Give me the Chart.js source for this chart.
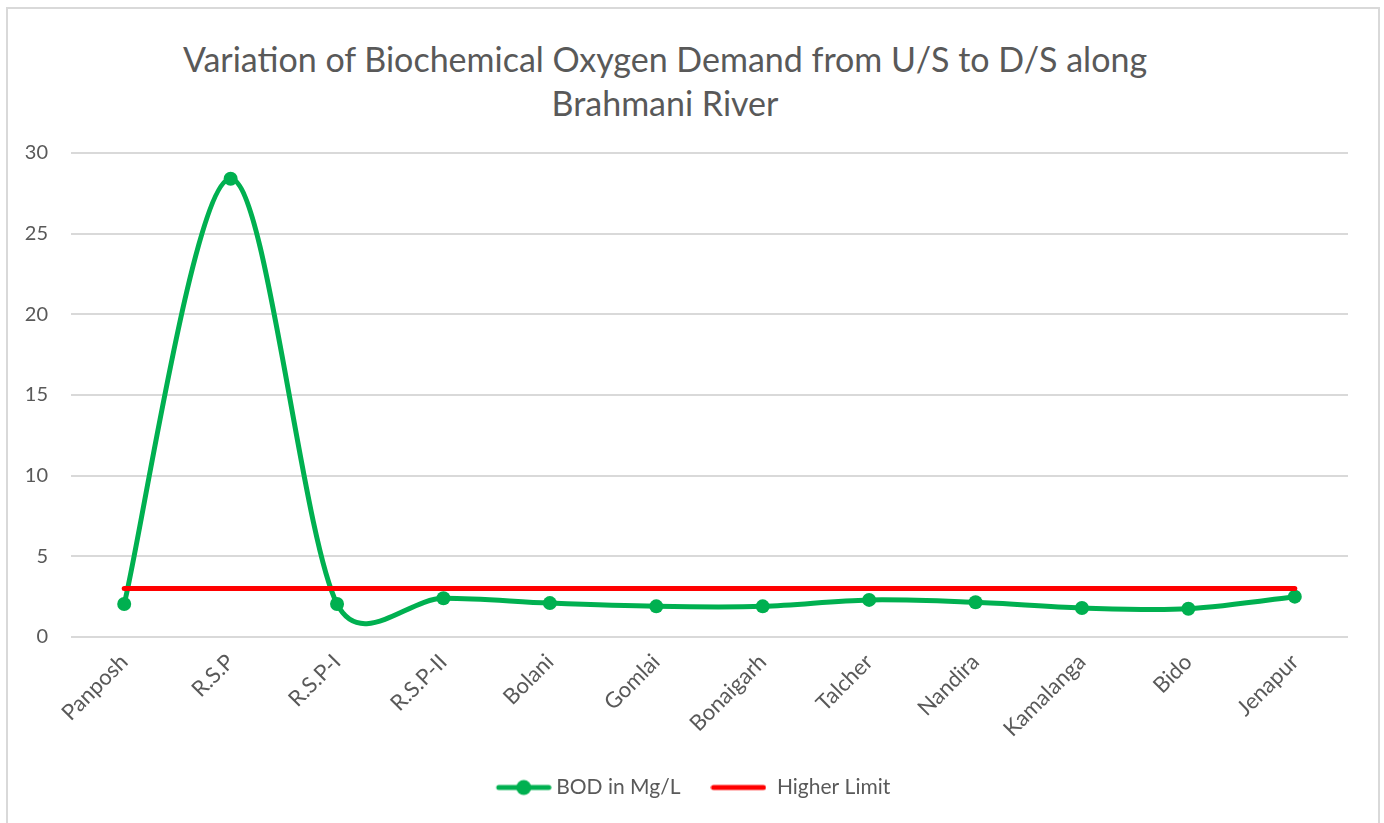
<!DOCTYPE html>
<html lang="en">
<head>
    <meta charset="UTF-8">
    <title>Variation of BOD along Brahmani River</title>
    <script src="https://cdn.jsdelivr.net/npm/chart.js"></script>
    <style>
        body {
            margin: 0;
            background: #fff;
            font-family: 'Lato', sans-serif;
            overflow: hidden;
        }
        /* light frame round the chart, as in the document */
        .frame {
            position: absolute;
            left: 6px;
            top: 7px;
            width: 1370px;
            height: 900px;
            border: 2px solid #d9d9d9;
        }
        .chart-title {
            position: absolute;
            left: 0;
            top: 37px;
            width: 1330px;
            text-align: center;
            font-size: 34px;
            line-height: 44px;
            color: #595959;
        }
        .chart-box {
            position: absolute;
            left: 0;
            top: 0;
            width: 1384px;
            height: 823px;
        }
    </style>
</head>
<body>
    <div class="frame"></div>
    <div class="chart-title">Variation of Biochemical Oxygen Demand from U/S to D/S along<br>Brahmani River</div>
    <div class="chart-box"><canvas id="bod-chart"></canvas></div>

    <script>
        // Sampling stations, upstream to downstream
        const stations = ['Panposh', 'R.S.P', 'R.S.P-I', 'R.S.P-II', 'Bolani', 'Gomlai', 'Bonaigarh', 'Talcher', 'Nandira', 'Kamalanga', 'Bido', 'Jenapur'];
        // BOD in mg/L
        const bodValues = [2.05, 28.4, 2.05, 2.4, 2.1, 1.9, 1.9, 2.3, 2.15, 1.8, 1.75, 2.5];
        // permissible upper limit
        const higherLimit = [3, 3, 3, 3, 3, 3, 3, 3, 3, 3, 3, 3];

        const GREEN = '#00B050';
        const RED = '#FF0000';
        const TEXT = '#595959';

        // legend icons: line with marker for BOD, plain line for the limit
        function legendIcon(color, withDot, shift) {
            const c = document.createElement('canvas');
            c.width = 56 + shift * 2;
            c.height = 18;
            const g = c.getContext('2d');
            g.strokeStyle = color;
            g.lineWidth = 5;
            g.lineCap = 'round';
            g.beginPath();
            g.moveTo(shift * 2 + 3, 9);
            g.lineTo(shift * 2 + 53, 9);
            g.stroke();
            if (withDot) {
                g.fillStyle = color;
                g.beginPath();
                g.arc(shift * 2 + 28, 9, 7.5, 0, Math.PI * 2);
                g.fill();
            }
            return c;
        }
        const legendIcons = [legendIcon(GREEN, true, 6), legendIcon(RED, false, 0)];

        // Excel style smoothing: catmull-rom tangents (1/6), control arm kept
        // under half of the segment length
        const excelSmooth = {
            id: 'excelSmooth',
            beforeDatasetDraw(chart, args) {
                if (args.index !== 0) return;
                const pts = args.meta.data;
                const n = pts.length;
                const dist = (a, b) => Math.hypot(b.x - a.x, b.y - a.y);
                for (let i = 0; i < n - 1; i++) {
                    const p0 = pts[Math.max(i - 1, 0)];
                    const p1 = pts[i];
                    const p2 = pts[i + 1];
                    const p3 = pts[Math.min(i + 2, n - 1)];
                    const d12 = dist(p1, p2);
                    const d02 = dist(p0, p2);
                    const d13 = dist(p1, p3);
                    const f1 = d02 / 6 < d12 / 2 ? 1 / 6 : d12 / (2 * d02);
                    const f2 = d13 / 6 < d12 / 2 ? 1 / 6 : d12 / (2 * d13);
                    p1.cp2x = p1.x + f1 * (p2.x - p0.x);
                    p1.cp2y = p1.y + f1 * (p2.y - p0.y);
                    p2.cp1x = p2.x - f2 * (p3.x - p1.x);
                    p2.cp1y = p2.y - f2 * (p3.y - p1.y);
                }
                args.meta.dataset._pointsUpdated = true;
                args.meta.dataset._path = undefined;
            }
        };

        // nudge the legend so it sits where the original one does
        const legendShift = {
            id: 'legendShift',
            afterLayout(chart) {
                chart.legend.left += 16;
                chart.legend.right += 16;
            }
        };

        const ctx = document.getElementById('bod-chart').getContext('2d');
        new Chart(ctx, {
            type: 'line',
            data: {
                labels: stations,
                datasets: [
                    {
                        label: 'BOD in Mg/L',
                        data: bodValues,
                        borderColor: GREEN,
                        backgroundColor: GREEN,
                        borderWidth: 5,
                        borderJoinStyle: 'round',
                        pointStyle: 'circle',
                        pointRadius: 7,
                        pointBorderWidth: 0,
                        pointBackgroundColor: GREEN,
                        tension: 0.5,
                        fill: false,
                        order: 1
                    },
                    {
                        label: 'Higher Limit',
                        data: higherLimit,
                        borderColor: RED,
                        backgroundColor: RED,
                        borderWidth: 5,
                        borderCapStyle: 'round',
                        pointRadius: 0,
                        tension: 0,
                        fill: false,
                        order: 0
                    }
                ]
            },
            plugins: [excelSmooth, legendShift],
            options: {
                responsive: true,
                maintainAspectRatio: false,
                animation: false,
                layout: { padding: { left: 0, right: 36, top: 153, bottom: 15 } },
                plugins: {
                    tooltip: { enabled: false },
                    title: { display: false },
                    legend: {
                        position: 'bottom',
                        labels: {
                            usePointStyle: true,
                            pointStyleWidth: 56,
                            padding: 30,
                            color: TEXT,
                            font: { family: 'Lato', size: 21 },
                            sort: (a, b) => a.datasetIndex - b.datasetIndex,
                            generateLabels(chart) {
                                const items = Chart.defaults.plugins.legend.labels.generateLabels(chart);
                                items.forEach(it => { it.pointStyle = legendIcons[it.datasetIndex]; });
                                return items;
                            }
                        }
                    }
                },
                scales: {
                    x: {
                        offset: true,
                        grid: { display: false, drawTicks: false },
                        border: { display: false },
                        ticks: {
                            autoSkip: false,
                            minRotation: 45,
                            maxRotation: 45,
                            padding: 12,
                            color: TEXT,
                            font: { family: 'Lato', size: 22 }
                        },
                        afterFit: (scale) => { scale.height = 110; }
                    },
                    y: {
                        min: 0,
                        max: 30,
                        grid: { color: '#d9d9d9', lineWidth: 2, drawTicks: false },
                        border: { display: false },
                        ticks: {
                            stepSize: 5,
                            padding: 23,
                            color: TEXT,
                            font: { family: 'Lato', size: 20 }
                        },
                        afterFit: (scale) => { scale.width = 71; }
                    }
                }
            }
        });
    </script>
</body>
</html>
